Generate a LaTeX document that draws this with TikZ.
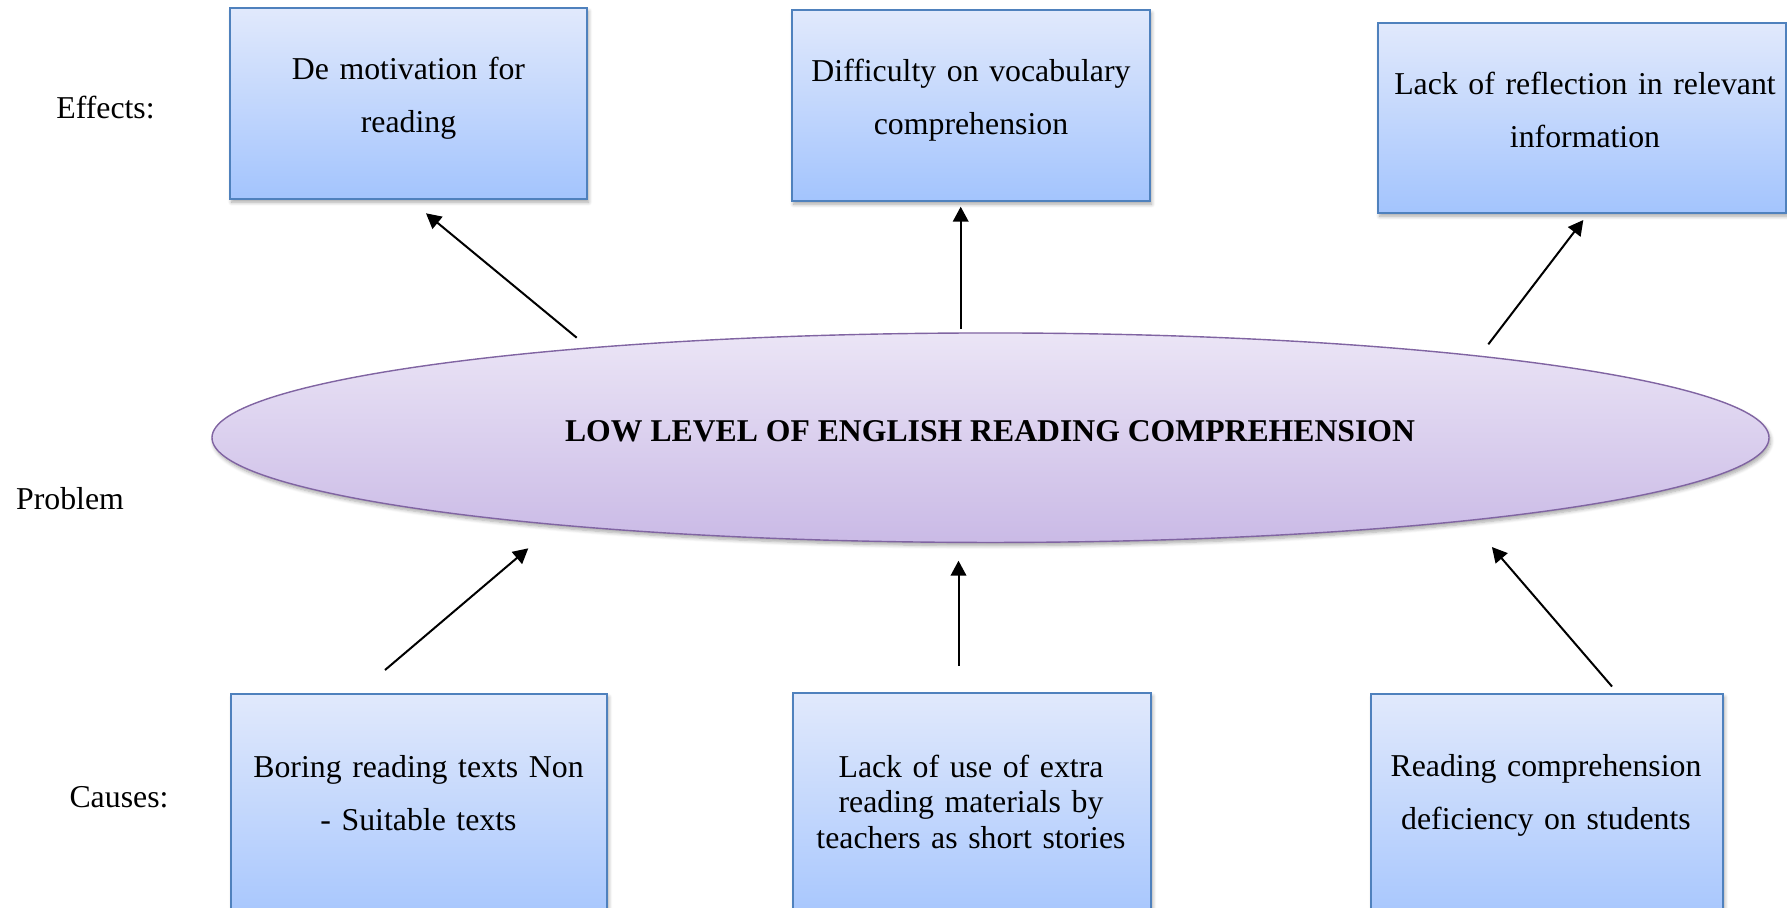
\documentclass[tikz,border=0pt]{standalone}
\usepackage{fontspec}
\setmainfont{Liberation Serif}
\usetikzlibrary{arrows.meta,shapes.geometric,shadows.blur}

\definecolor{boxline}{RGB}{79,129,189}
\definecolor{boxtop}{RGB}{225,233,252}
\definecolor{boxbot}{RGB}{163,196,253}
\definecolor{ovline}{RGB}{128,100,162}
\definecolor{ovtop}{RGB}{235,229,246}
\definecolor{ovbot}{RGB}{202,186,230}

\begin{document}
\begin{tikzpicture}[x=0.5pt,y=-0.5pt,
  every node/.style={inner sep=0pt,outer sep=0pt},
  softshadow/.style={blur shadow={shadow xshift=0.8pt,shadow yshift=-1.6pt,
      shadow blur steps=6,shadow opacity=35}},
  gbox/.style={rectangle,draw=boxline,line width=0.8pt,
      top color=boxtop,bottom color=boxbot,softshadow},
  oval/.style={ellipse,draw=ovline,line width=0.7pt,
      top color=ovtop,bottom color=ovbot,softshadow},
  boxtext/.style={font=\fontsize{15.9}{26.5}\selectfont,align=center,
      anchor=base,text width=200pt},
  tighttext/.style={boxtext,font=\fontsize{15.9}{17.75}\selectfont},
  sidelabel/.style={font=\fontsize{15.9}{19}\selectfont,anchor=base},
  arr/.style={line width=1pt,-{Triangle[length=7.5pt,width=7.8pt]}}
]
\useasboundingbox (0,0) rectangle (1787,907);
\clip (0,0) rectangle (1787,907);

% row labels
\node[sidelabel] (leff) at (105.5,118) {Effects:};
\node[sidelabel] (lprob) at (70,509) {Problem};
\node[sidelabel] (lcau) at (119,807) {Causes:};

% effects
\node[gbox,minimum width=178.5pt,minimum height=95.5pt] (e1) at (408.5,103.5) {};
\node[gbox,minimum width=179pt,minimum height=95.5pt] (e2) at (971,105.5) {};
\node[gbox,minimum width=204pt,minimum height=95pt] (e3) at (1582,118) {};
\node[boxtext] (e1t) at (408.5,79) {De motivation for\\reading};
\node[boxtext] (e2t) at (971,81) {Difficulty on vocabulary\\comprehension};
\node[boxtext] (e3t) at (1585,94) {Lack of reflection in relevant\\information};

% problem
\node[oval,minimum width=778.5pt,minimum height=104.75pt] (prob) at (990.5,437.7) {};
\node[font=\fontsize{15.85}{19}\selectfont\bfseries,anchor=base] (probt) at (990,441)
  {LOW LEVEL OF ENGLISH READING COMPREHENSION};

% causes
\node[gbox,minimum width=188pt,minimum height=120pt] (c1) at (419,814) {};
\node[gbox,minimum width=179pt,minimum height=120pt] (c2) at (972,813) {};
\node[gbox,minimum width=176pt,minimum height=120pt] (c3) at (1547,814) {};
\node[boxtext] (c1t) at (418.5,777) {Boring reading texts Non\\- Suitable texts};
\node[tighttext] (c2t) at (971,777) {Lack of use of extra\\reading materials by\\teachers as short stories};
\node[boxtext] (c3t) at (1546,776) {Reading comprehension\\deficiency on students};

% connector end points
\coordinate (a1s) at (576.7,337.7);  \coordinate (a1e) at (426,213.3);
\coordinate (a2s) at (960.7,329);    \coordinate (a2e) at (960.7,206.7);
\coordinate (a3s) at (1488.3,344.3); \coordinate (a3e) at (1583.3,220);
\coordinate (a4s) at (385,670);      \coordinate (a4e) at (528.3,548.3);
\coordinate (a5s) at (958.5,665.6);  \coordinate (a5e) at (958.5,560.7);
\coordinate (a6s) at (1612,686.5);   \coordinate (a6e) at (1491.9,547);

\draw[arr] (a1s) -- (a1e);
\draw[arr] (a2s) -- (a2e);
\draw[arr] (a3s) -- (a3e);
\draw[arr] (a4s) -- (a4e);
\draw[arr] (a5s) -- (a5e);
\draw[arr] (a6s) -- (a6e);
\end{tikzpicture}
\end{document}
